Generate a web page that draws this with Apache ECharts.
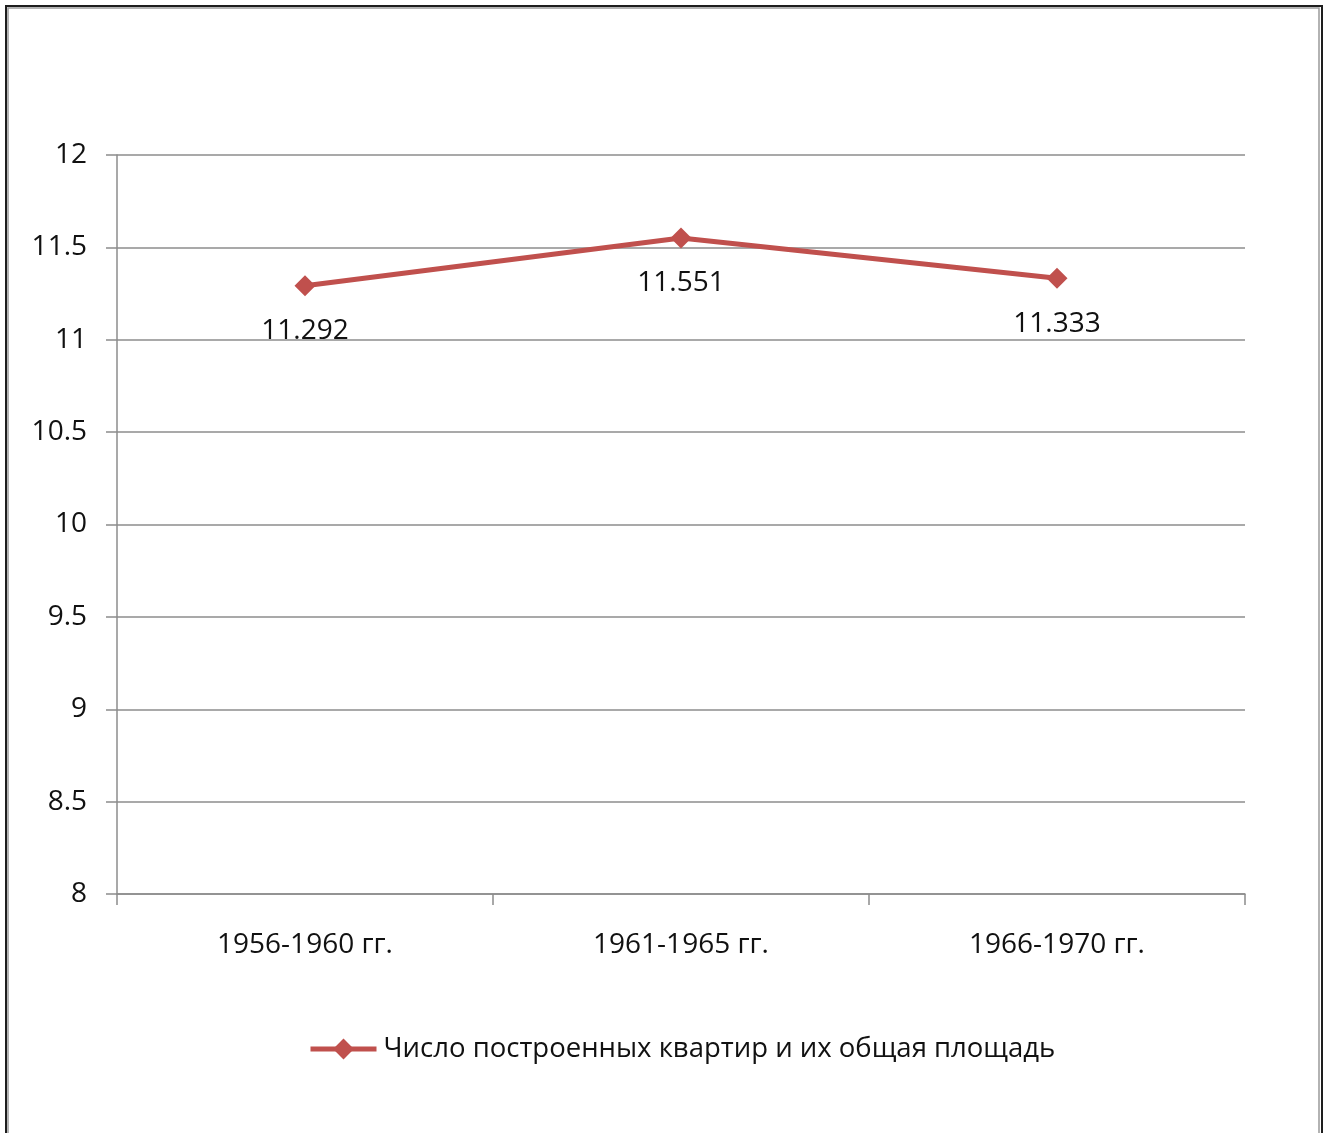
<!DOCTYPE html>
<html>
<head>
<meta charset="utf-8">
<script src="https://cdn.jsdelivr.net/npm/echarts@6/dist/echarts.min.js"></script>
<style>
  html, body { margin: 0; padding: 0; background: #fff; }
  #chart { width: 1326px; height: 1133px; }
</style>
</head>
<body>
<div id="chart"></div>
<script>
// данные графика
var periods = ['1956-1960 гг.', '1961-1965 гг.', '1966-1970 гг.'];
var values = [11.292, 11.551, 11.333];
var seriesName = 'Число построенных квартир и их общая площадь';

var chart = echarts.init(document.getElementById('chart'));

var option = {
    backgroundColor: '#fff',
    animation: false,
    textStyle: { fontFamily: 'Open Sans' },
    graphic: [
        // рамка вокруг рисунка
        {
            type: 'rect',
            shape: { x: 6, y: 6, width: 1316, height: 1160 },
            style: { fill: null, stroke: '#1e1e1e', lineWidth: 2 }
        },
        {
            type: 'rect',
            shape: { x: 8, y: 8, width: 1311, height: 1160 },
            style: { fill: null, stroke: '#9a9a9a', lineWidth: 1.5 }
        }
    ],
    grid: {
        left: 117,
        right: 81,
        top: 155,
        bottom: 239
    },
    legend: {
        data: [seriesName],
        left: 303,
        top: 1030,
        itemWidth: 66,
        itemHeight: 26,
        itemGap: 10,
        lineStyle: { width: 5 },
        textStyle: { fontSize: 27.5, color: '#111', fontFamily: 'Open Sans', padding: [0, 0, 0, 2] }
    },
    xAxis: {
        type: 'category',
        data: periods,
        boundaryGap: true,
        axisLine: { lineStyle: { color: '#8c8c8c', width: 1.5 } },
        axisTick: { show: true, length: 11, alignWithLabel: false, lineStyle: { color: '#8c8c8c', width: 1.5 } },
        axisLabel: { fontSize: 28, color: '#111', margin: 37 }
    },
    yAxis: {
        type: 'value',
        min: 8,
        max: 12,
        interval: 0.5,
        axisLine: { show: true, lineStyle: { color: '#8c8c8c', width: 1.5 } },
        axisTick: { show: true, length: 11, lineStyle: { color: '#8c8c8c', width: 1.5 } },
        splitLine: { show: true, lineStyle: { color: '#8c8c8c', width: 1.5 } },
        axisLabel: { fontSize: 28, color: '#111', margin: 30 }
    },
    series: [
        {
            name: seriesName,
            type: 'line',
            data: values,
            color: '#c0504d',
            lineStyle: { width: 5, color: '#c0504d' },
            symbol: 'diamond',
            symbolSize: 21,
            itemStyle: { color: '#c0504d' },
            label: {
                show: true,
                position: 'bottom',
                distance: 21,
                fontSize: 28,
                color: '#111',
                formatter: function (p) { return p.value.toFixed(3); }
            }
        }
    ]
};

chart.setOption(option);
</script>
</body>
</html>
